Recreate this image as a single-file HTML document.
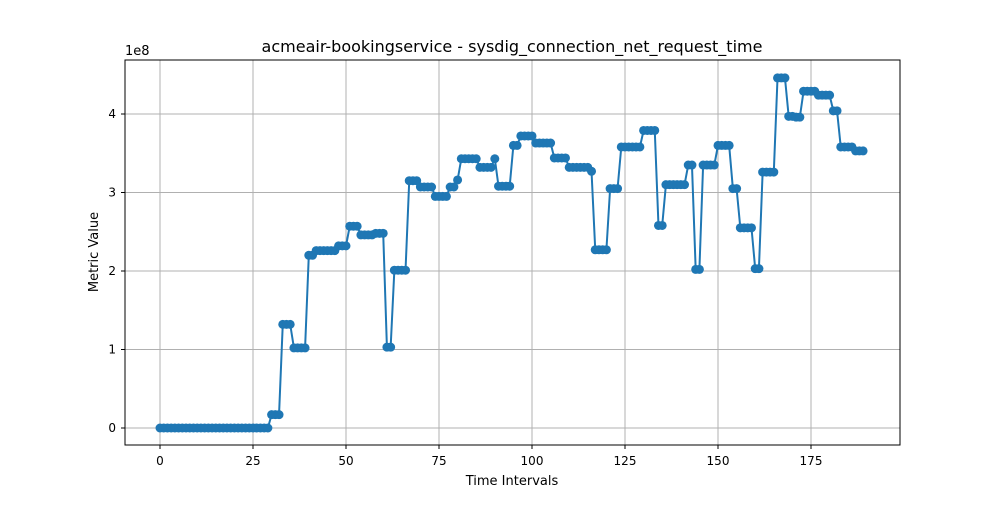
<!DOCTYPE html>
<html><head><meta charset="utf-8"><style>
body{margin:0;background:#fff;}
svg text{font-family:"DejaVu Sans","Liberation Sans",sans-serif;fill:#000;}
</style></head><body>
<svg id="chart" width="1000" height="500" xmlns="http://www.w3.org/2000/svg">
<rect width="1000" height="500" fill="#fff"/>
<g id="grid"></g>
<g id="series"></g>
<rect x="125" y="60" width="775" height="385" fill="none" stroke="#000" stroke-width="1"/>
<g id="ticks"></g>
<text x="512" y="52" text-anchor="middle" font-size="16">acmeair-bookingservice - sysdig_connection_net_request_time</text>
<text x="512" y="485" text-anchor="middle" font-size="13">Time Intervals</text>
<text x="98" y="252" text-anchor="middle" font-size="13" transform="rotate(-90 98 252)">Metric Value</text>
<text x="125" y="55" font-size="13">1e8</text>
</svg>
<script>
const segVals=[0,0.17,1.32,1.02,2.2,2.26,2.32,2.57,2.46,2.48,1.03,2.01,3.15,3.07,2.95,3.07,3.16,3.43,3.32,3.43,3.08,3.6,3.72,3.63,3.44,3.32,3.27,2.27,3.05,3.58,3.79,2.58,3.1,3.35,2.02,3.35,3.6,3.05,2.55,2.03,3.26,4.46,3.97,3.96,4.29,4.24,4.04,3.58,3.53];
const segLens=[30,3,3,4,2,6,3,3,4,3,2,4,3,4,4,2,1,5,4,1,4,2,4,5,4,6,1,4,3,6,4,2,6,2,2,4,4,2,4,2,4,3,2,2,4,4,2,4,3];
const xTicks=[0,25,50,75,100,125,150,175];
const yTicks=[0,1,2,3,4];
const values=[];
segVals.forEach((v,i)=>{for(let k=0;k<segLens[i];k++)values.push(v);});
const NS="http://www.w3.org/2000/svg";
const xS=i=>160+i*3.72;
const yS=v=>428-v*78.5;
const grid=document.getElementById('grid'),ticks=document.getElementById('ticks'),ser=document.getElementById('series');
function mk(tag,attrs,parent){const e=document.createElementNS(NS,tag);for(const k in attrs)e.setAttribute(k,attrs[k]);parent.appendChild(e);return e;}
xTicks.forEach(t=>{
 const x=xS(t);
 const g=mk('line',{x1:x,x2:x,y1:60,y2:445,stroke:'#b0b0b0','stroke-width':1},grid);
 
 
 const tk=mk('line',{x1:x,x2:x,y1:445,y2:449,stroke:'#000'},ticks);
 
 
 const tx=mk('text',{x:x,y:465,'text-anchor':'middle','font-size':12},ticks);
 tx.textContent=t;
 
 
});
yTicks.forEach(t=>{
 const y=yS(t);
 const g=mk('line',{x1:125,x2:900,y1:y,y2:y,stroke:'#b0b0b0','stroke-width':1},grid);
 
 
 const tk=mk('line',{x1:121,x2:125,y1:y,y2:y,stroke:'#000'},ticks);
 
 
 const tx=mk('text',{x:116,y:y+4,'text-anchor':'end','font-size':12},ticks);
 tx.textContent=t;
 
 
});
const pts=values.map((v,i)=>xS(i)+','+yS(v)).join(' ');
const pl=mk('polyline',{points:pts,fill:'none',stroke:'#1f77b4','stroke-width':2},ser);


values.forEach((v,i)=>{
 const c=mk('circle',{cx:xS(i),cy:yS(v),r:4.5,fill:'#1f77b4'},ser);
 
 
});
</script>
</body></html>
